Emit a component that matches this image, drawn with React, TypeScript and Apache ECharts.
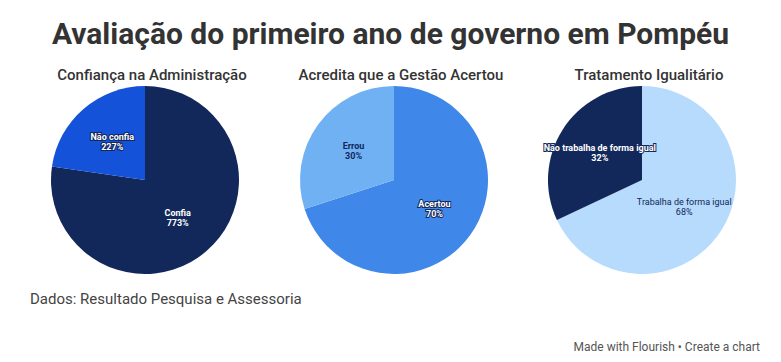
import React, { useEffect, useRef } from "react";
import * as echarts from "echarts";

const chartTitle = "Avaliação do primeiro ano de governo em Pompéu";
const pieTitles = ["Confiança na Administração", "Acredita que a Gestão Acertou", "Tratamento Igualitário"];

const names1 = ["Confia", "Não confia"];
const values1 = [77.3, 22.7];
const labels1 = ["773%", "227%"];
const colors1 = ["#12275A", "#1352D9"];
const textColors1 = ["#FFFFFF", "#FFFFFF"];

const names2 = ["Acertou", "Errou"];
const values2 = [70, 30];
const labels2 = ["70%", "30%"];
const colors2 = ["#3F88E9", "#70B1F3"];
const textColors2 = ["#FFFFFF", "#12275A"];

const names3 = ["Trabalha de forma igual", "Não trabalha de forma igual"];
const values3 = [68, 32];
const labels3 = ["68%", "32%"];
const colors3 = ["#B6DBFC", "#12275A"];
const textColors3 = ["#12275A", "#FFFFFF"];

const source = "Dados: Resultado Pesquisa e Assessoria";
const credit = "Made with Flourish • Create a chart";

function buildPie(names: string[], values: number[], labels: string[], colors: string[], textColors: string[], cx: number, darkBold: boolean) {
  return {
    type: "pie",
    center: [cx, 180],
    radius: 94,
    startAngle: 90,
    clockwise: true,
    silent: true,
    label: {
      show: true,
      position: "inside",
      fontFamily: "Roboto",
      fontWeight: "bold",
      fontSize: 9,
      lineHeight: 10,
    },
    labelLine: { show: false },
    itemStyle: { borderWidth: 0 },
    data: names.map((n, i) => {
      const white = textColors[i] === "#FFFFFF";
      return {
        name: n,
        value: values[i],
        itemStyle: { color: colors[i] },
        label: {
          color: textColors[i],
          formatter: `${n}\n${labels[i]}`,
          fontWeight: white || darkBold ? "bold" : "normal",
          textBorderColor: white ? "#12275A" : "transparent",
          textBorderWidth: white ? 2 : 0,
        },
      };
    }),
  };
}

export default function App() {
  const ref = useRef<HTMLDivElement>(null);
  useEffect(() => {
    document.body.style.margin = "0";
    const chart = echarts.init(ref.current!, null, { renderer: "svg" });
    const centers = [145, 394, 642];
    chart.setOption({
      animation: false,
      backgroundColor: "#FFFFFF",
      title: [
        {
          text: chartTitle,
          left: "center",
          top: 13,
          textStyle: { fontFamily: "Roboto", fontWeight: "bold", fontSize: 30, color: "#333333" },
        },
        ...pieTitles.map((t, i) => ({
          text: t,
          left: centers[i] + 2,
          top: 62,
          textAlign: "center",
          textStyle: { fontFamily: "Roboto", fontWeight: 500, fontSize: 15, color: "#333333" },
        })),
      ],
      graphic: [
        {
          type: "text",
          left: 30,
          top: 291,
          style: { text: source, fontFamily: "Roboto", fontSize: 15, fill: "#444444" },
        },
        {
          type: "text",
          right: 21,
          top: 341,
          style: { text: credit, fontFamily: "Roboto", fontSize: 12, fill: "#555555" },
        },
      ],
      series: [
        buildPie(names1, values1, labels1, colors1, textColors1, centers[0], true),
        buildPie(names2, values2, labels2, colors2, textColors2, centers[1], true),
        buildPie(names3, values3, labels3, colors3, textColors3, centers[2], false),
      ],
    });
    return () => chart.dispose();
  }, []);
  return <div ref={ref} style={{ width: 781, height: 362 }} />;
}
